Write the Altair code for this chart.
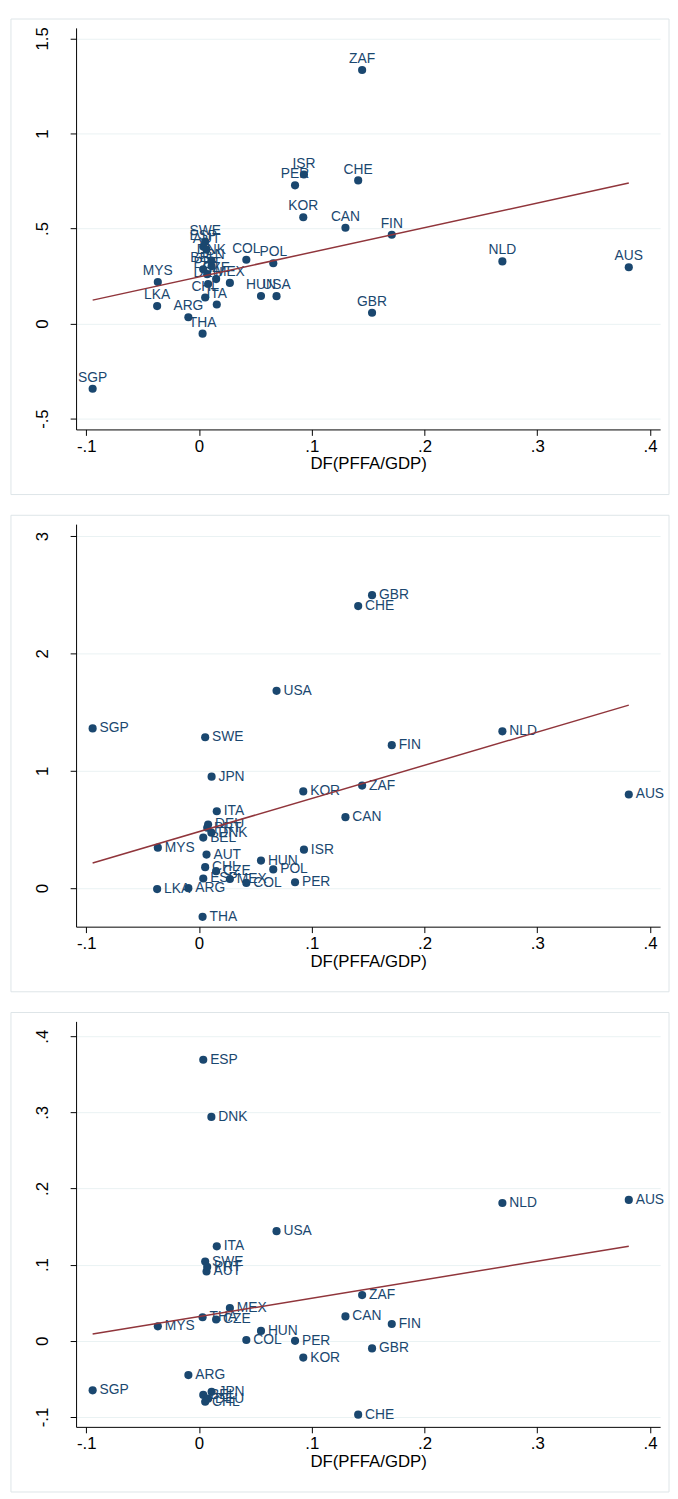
import altair as alt
import pandas as pd

countries = ["SWE", "ESP", "AUT", "DNK", "JPN", "BEL", "PRT", "CZE", "DEU", "CHL",
             "ITA", "MEX", "COL", "HUN", "USA", "POL", "PER", "KOR", "ISR", "CAN",
             "ZAF", "CHE", "GBR", "FIN", "NLD", "AUS", "MYS", "LKA", "ARG", "THA", "SGP"]

x_pffa = [0.0055, 0.0038, 0.0067, 0.0110, 0.0112, 0.0038, 0.0073, 0.0152, 0.0081, 0.0055,
          0.0158, 0.0274, 0.0420, 0.0550, 0.0688, 0.0659, 0.0852, 0.0925, 0.0931, 0.1299,
          0.1447, 0.1412, 0.1535, 0.1710, 0.2691, 0.3812, -0.0365, -0.0371, -0.0094, 0.0032, -0.0943]

y_panel1 = [0.431, 0.405, 0.389, 0.332, 0.301, 0.286, 0.260, 0.234, 0.208, 0.137,
            0.100, 0.214, 0.336, 0.145, 0.144, 0.317, 0.727, 0.559, 0.784, 0.504,
            1.334, 0.753, 0.057, 0.467, 0.327, 0.296, 0.218, 0.092, 0.033, -0.053, -0.343]

y_panel2 = [1.286, 0.082, 0.286, 0.473, 0.950, 0.431, 0.515, 0.145, 0.542, 0.179,
            0.655, 0.078, 0.045, 0.235, 1.681, 0.160, 0.050, 0.824, 0.328, 0.605,
            0.874, 2.403, 2.496, 1.218, 1.336, 0.798, 0.345, -0.008, 0.000, -0.244, 1.361]

y_panel3 = [0.104, 0.369, 0.091, 0.294, -0.067, -0.071, 0.097, 0.028, -0.076, -0.080,
            0.124, 0.043, 0.001, 0.013, 0.144, None, 0.000, -0.022, None, 0.032,
            0.060, -0.097, -0.010, 0.022, 0.181, 0.185, 0.019, None, -0.045, 0.031, -0.065]

x_ticks = [-0.1, 0, 0.1, 0.2, 0.3, 0.4]
y_ticks1 = [-0.5, 0, 0.5, 1, 1.5]
y_ticks2 = [0, 1, 2, 3]
y_ticks3 = [-0.1, 0, 0.1, 0.2, 0.3, 0.4]

NAVY = "#1a476f"
MAROON = "#90353b"
FONT = "Liberation Sans"
W = 592

fmt = ("datum.value == 0 ? '0' : (abs(datum.value) < 1 ? "
       "(datum.value < 0 ? '-' : '') + substring(toString(abs(datum.value)), 1) : toString(datum.value))")


def panel(ys, yticks, ydomain, H, above):
    df = pd.DataFrame({"country": countries, "x": x_pffa, "y": ys}).dropna()
    base = alt.Chart(df)
    xenc = alt.X("x:Q",
                 scale=alt.Scale(domain=[-0.109, 0.409], nice=False, zero=False),
                 axis=alt.Axis(values=x_ticks, title="DF(PFFA/GDP)", grid=False,
                               labelExpr=fmt, tickSize=6, labelPadding=3,
                               titlePadding=2, labelFlush=False))
    yenc = alt.Y("y:Q",
                 scale=alt.Scale(domain=ydomain, nice=False, zero=False),
                 axis=alt.Axis(values=yticks, title=None, grid=True, labelExpr=fmt,
                               labelAngle=270, labelAlign="center",
                               labelBaseline="alphabetic", labelPadding=23,
                               tickSize=6, labelFlush=False))
    frame = alt.Chart(pd.DataFrame({"f": [0]})).mark_rect(
        fillOpacity=0, stroke="#dde5e8", strokeWidth=1
    ).encode(x=alt.value(-66), x2=alt.value(W + 9),
             y=alt.value(-9), y2=alt.value(H + 66))
    if above:
        text = base.mark_text(align="center", baseline="alphabetic", dy=-7,
                              fontSize=14, font=FONT, color=NAVY)
    else:
        text = base.mark_text(align="left", baseline="middle", dx=7,
                              fontSize=14, font=FONT, color=NAVY)
    text = text.encode(x=xenc, y=yenc, text="country:N")
    pts = base.mark_circle(size=68, color=NAVY, opacity=1).encode(x=xenc, y=yenc)
    fit = base.transform_regression("x", "y").mark_line(
        color=MAROON, strokeWidth=1.5).encode(x=xenc, y=yenc)
    return alt.layer(frame, text, pts, fit).properties(width=W, height=H)


p1 = panel(y_panel1, y_ticks1, [-0.557, 1.5555], 407, True)
p2 = panel(y_panel2, y_ticks2, [-0.328, 3.101], 408, False)
p3 = panel(y_panel3, y_ticks3, [-0.113, 0.4194], 411, False)

chart = alt.vconcat(p1, p2, p3, spacing=19).properties(
    padding={"left": 2, "top": 0, "right": 0, "bottom": 0}
).configure_view(strokeWidth=0).configure_axis(
    domainColor="#000000", tickColor="#000000", labelColor="#000000",
    titleColor="#000000", labelFont=FONT, titleFont=FONT,
    labelFontSize=17, titleFontSize=17, titleFontWeight="normal",
    gridColor="#eaf2f3", gridWidth=1, domainWidth=1, tickWidth=1
)

chart.save("out.html", embed_options={"renderer": "svg", "actions": False})
